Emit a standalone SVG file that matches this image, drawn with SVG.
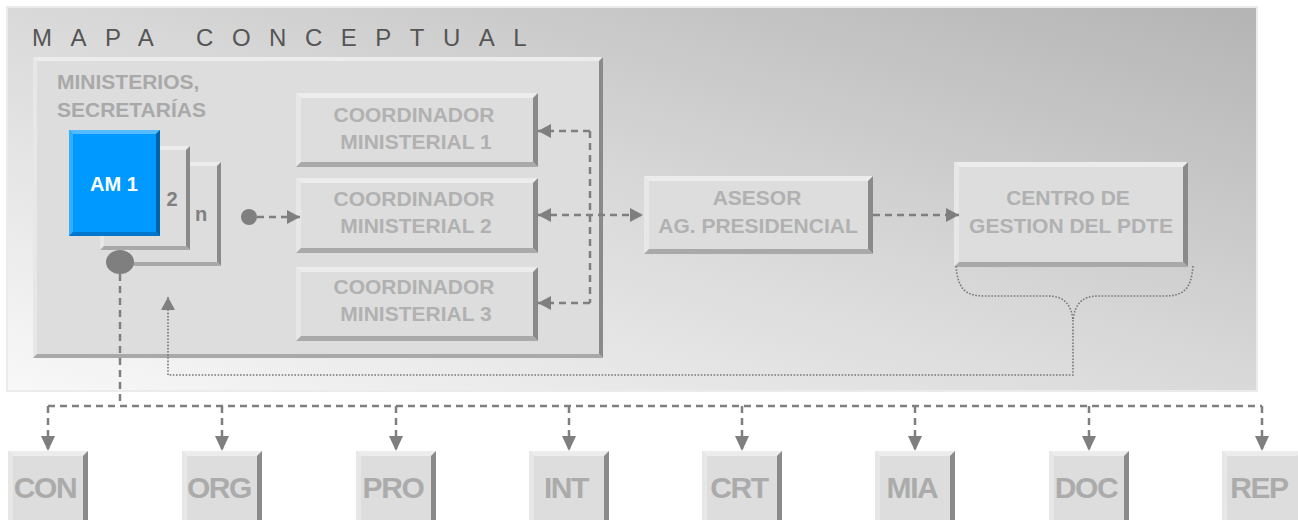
<svg xmlns="http://www.w3.org/2000/svg" width="1298" height="520" viewBox="0 0 1298 520">
<defs>
<linearGradient id="bg" x1="0" y1="1" x2="1" y2="0">
<stop offset="0" stop-color="#f8f8f8"/>
<stop offset="0.5" stop-color="#d9d9d9"/>
<stop offset="1" stop-color="#b4b4b4"/>
</linearGradient>
<marker id="ah" markerUnits="userSpaceOnUse" markerWidth="13" markerHeight="14" refX="13" refY="7" orient="auto-start-reverse" viewBox="0 0 13 14">
<path d="M0,0 L13,7 L0,14 Z" fill="#7f7f7f" stroke="none"/>
</marker>
<marker id="ahd" markerUnits="userSpaceOnUse" markerWidth="15" markerHeight="14" refX="15" refY="7" orient="auto" viewBox="0 0 15 14">
<path d="M0,0 L15,7 L0,14 Z" fill="#7f7f7f" stroke="none"/>
</marker>
</defs>
<style>
.face{fill:#dddddd}
.tp{fill:#ececec}
.lf{fill:#e7e7e7}
.rt{fill:#8a8a8a}
.bt{fill:#a9a9a9}
.lbl{font-family:"Liberation Sans",Arial,sans-serif;font-weight:bold;font-size:21px;fill:#b1b1b1;text-anchor:middle}
.big{font-family:"Liberation Sans",Arial,sans-serif;font-weight:bold;font-size:30px;letter-spacing:-1.4px;fill:#ababab;text-anchor:middle}
.dash{fill:none;stroke:#7f7f7f;stroke-width:2.5;stroke-dasharray:7 5}
.dot{fill:none;stroke:#777777;stroke-width:1.6;stroke-dasharray:1.6 1.6}
</style>

<g id="panel">
<rect x="7" y="7" width="1250" height="384" fill="url(#bg)" stroke="#ebebeb" stroke-width="2"/>
<text x="32" y="46" font-family="'Liberation Sans',Arial,sans-serif" font-size="24" letter-spacing="18.5" fill="#555555">MAPA CONCEPTUAL</text>
</g>

<g id="ministerios">
<rect class="face" x="33" y="57" width="570" height="301"/>
<polygon class="tp" points="33,57 603,57 599,61 37,61"/>
<polygon class="lf" points="33,57 37,61 37,354 33,358"/>
<polygon class="rt" points="603,57 603,358 599,354 599,61"/>
<polygon class="bt" points="33,358 37,354 599,354 603,358"/>
<text x="57" y="89" font-family="'Liberation Sans',Arial,sans-serif" font-weight="bold" font-size="21" fill="#a9a9a9">MINISTERIOS,</text>
<text x="57" y="117" font-family="'Liberation Sans',Arial,sans-serif" font-weight="bold" font-size="21" fill="#a9a9a9">SECRETARÍAS</text>
</g>

<g id="am-n">
<rect class="face" x="125" y="162" width="96" height="104"/>
<polygon class="tp" points="125,162 221,162 217,166 129,166"/>
<polygon class="lf" points="125,162 129,166 129,262 125,266"/>
<polygon class="rt" points="221,162 221,266 217,262 217,166"/>
<polygon class="bt" points="125,266 129,262 217,262 221,266"/>
<text x="201" y="221" font-family="'Liberation Sans',Arial,sans-serif" font-weight="bold" font-size="20" fill="#808080" text-anchor="middle">n</text>
</g>

<g id="am-2">
<rect class="face" x="100" y="146" width="90" height="104"/>
<polygon class="tp" points="100,146 190,146 186,150 104,150"/>
<polygon class="lf" points="100,146 104,150 104,246 100,250"/>
<polygon class="rt" points="190,146 190,250 186,246 186,150"/>
<polygon class="bt" points="100,250 104,246 186,246 190,250"/>
<text x="172" y="206" font-family="'Liberation Sans',Arial,sans-serif" font-weight="bold" font-size="20" fill="#808080" text-anchor="middle">2</text>
</g>

<g id="am-1">
<rect x="69" y="130" width="91" height="106" fill="#0099ff"/>
<polygon points="69,130 160,130 156,134 73,134" fill="#55bbff"/>
<polygon points="69,130 73,134 73,232 69,236" fill="#36aeff"/>
<polygon points="160,130 160,236 156,232 156,134" fill="#0062a8"/>
<polygon points="69,236 73,232 156,232 160,236" fill="#0077cc"/>
<text x="114" y="191" font-family="'Liberation Sans',Arial,sans-serif" font-weight="bold" font-size="20" fill="#ffffff" text-anchor="middle">AM 1</text>
</g>

<g id="cm1">
<rect class="face" x="296" y="93" width="242" height="74"/>
<polygon class="tp" points="296,93 538,93 533,98 301,98"/>
<polygon class="lf" points="296,93 301,98 301,162 296,167"/>
<polygon class="rt" points="538,93 538,167 533,162 533,98"/>
<polygon class="bt" points="296,167 301,162 533,162 538,167"/>
<text class="lbl" x="414" y="122">COORDINADOR</text>
<text class="lbl" x="416" y="149">MINISTERIAL 1</text>
</g>

<g id="cm2">
<rect class="face" x="296" y="178" width="242" height="75"/>
<polygon class="tp" points="296,178 538,178 533,183 301,183"/>
<polygon class="lf" points="296,178 301,183 301,248 296,253"/>
<polygon class="rt" points="538,178 538,253 533,248 533,183"/>
<polygon class="bt" points="296,253 301,248 533,248 538,253"/>
<text class="lbl" x="414" y="206">COORDINADOR</text>
<text class="lbl" x="416" y="233">MINISTERIAL 2</text>
</g>

<g id="cm3">
<rect class="face" x="296" y="267" width="242" height="74"/>
<polygon class="tp" points="296,267 538,267 533,272 301,272"/>
<polygon class="lf" points="296,267 301,272 301,336 296,341"/>
<polygon class="rt" points="538,267 538,341 533,336 533,272"/>
<polygon class="bt" points="296,341 301,336 533,336 538,341"/>
<text class="lbl" x="414" y="294">COORDINADOR</text>
<text class="lbl" x="416" y="321">MINISTERIAL 3</text>
</g>

<g id="asesor">
<rect class="face" x="644" y="176" width="229" height="78"/>
<polygon class="tp" points="644,176 873,176 868,181 649,181"/>
<polygon class="lf" points="644,176 649,181 649,249 644,254"/>
<polygon class="rt" points="873,176 873,254 868,249 868,181"/>
<polygon class="bt" points="644,254 649,249 868,249 873,254"/>
<text class="lbl" x="757" y="205">ASESOR</text>
<text class="lbl" x="758" y="233">AG. PRESIDENCIAL</text>
</g>

<g id="centro">
<rect class="face" x="954" y="162" width="234" height="105"/>
<polygon class="tp" points="954,162 1188,162 1183,167 959,167"/>
<polygon class="lf" points="954,162 959,167 959,262 954,267"/>
<polygon class="rt" points="1188,162 1188,267 1183,262 1183,167"/>
<polygon class="bt" points="954,267 959,262 1183,262 1188,267"/>
<text class="lbl" x="1068" y="205">CENTRO DE</text>
<text class="lbl" x="1071" y="233">GESTION DEL PDTE</text>
</g>

<g id="con">
<rect class="face" x="8" y="451" width="80" height="80"/>
<polygon class="tp" points="8,451 88,451 83,456 13,456"/>
<polygon class="lf" points="8,451 13,456 13,526 8,531"/>
<polygon class="rt" points="88,451 88,531 83,526 83,456"/>
<text class="big" x="45" y="498">CON</text>
</g>
<g id="org">
<rect class="face" x="182" y="451" width="80" height="80"/>
<polygon class="tp" points="182,451 262,451 257,456 187,456"/>
<polygon class="lf" points="182,451 187,456 187,526 182,531"/>
<polygon class="rt" points="262,451 262,531 257,526 257,456"/>
<text class="big" x="219" y="498">ORG</text>
</g>
<g id="pro">
<rect class="face" x="356" y="451" width="80" height="80"/>
<polygon class="tp" points="356,451 436,451 431,456 361,456"/>
<polygon class="lf" points="356,451 361,456 361,526 356,531"/>
<polygon class="rt" points="436,451 436,531 431,526 431,456"/>
<text class="big" x="393" y="498">PRO</text>
</g>
<g id="int">
<rect class="face" x="529" y="451" width="80" height="80"/>
<polygon class="tp" points="529,451 609,451 604,456 534,456"/>
<polygon class="lf" points="529,451 534,456 534,526 529,531"/>
<polygon class="rt" points="609,451 609,531 604,526 604,456"/>
<text class="big" x="566" y="498">INT</text>
</g>
<g id="crt">
<rect class="face" x="702" y="451" width="80" height="80"/>
<polygon class="tp" points="702,451 782,451 777,456 707,456"/>
<polygon class="lf" points="702,451 707,456 707,526 702,531"/>
<polygon class="rt" points="782,451 782,531 777,526 777,456"/>
<text class="big" x="739" y="498">CRT</text>
</g>
<g id="mia">
<rect class="face" x="875" y="451" width="80" height="80"/>
<polygon class="tp" points="875,451 955,451 950,456 880,456"/>
<polygon class="lf" points="875,451 880,456 880,526 875,531"/>
<polygon class="rt" points="955,451 955,531 950,526 950,456"/>
<text class="big" x="912" y="498">MIA</text>
</g>
<g id="doc">
<rect class="face" x="1049" y="451" width="80" height="80"/>
<polygon class="tp" points="1049,451 1129,451 1124,456 1054,456"/>
<polygon class="lf" points="1049,451 1054,456 1054,526 1049,531"/>
<polygon class="rt" points="1129,451 1129,531 1124,526 1124,456"/>
<text class="big" x="1086" y="498">DOC</text>
</g>
<g id="rep">
<rect class="face" x="1222" y="451" width="80" height="80"/>
<polygon class="tp" points="1222,451 1302,451 1297,456 1227,456"/>
<polygon class="lf" points="1222,451 1227,456 1227,526 1222,531"/>
<text class="big" x="1259" y="498">REP</text>
</g>

<g id="connectors">
<circle cx="249" cy="217" r="8" fill="#7f7f7f"/>
<path class="dash" d="M257,217 H300" marker-end="url(#ah)"/>
<path class="dash" d="M590,131 V303"/>
<path class="dash" d="M590,131 H538" marker-end="url(#ah)"/>
<path class="dash" d="M590,303 H538" marker-end="url(#ah)"/>
<path class="dash" d="M538,215 H643" marker-start="url(#ah)" marker-end="url(#ah)"/>
<path class="dash" d="M873,215 H959" marker-end="url(#ah)"/>
<path class="dot" d="M956,266 C958,288 964,296 985,296 H1048 C1064,296 1071,304 1073,320"/>
<path class="dot" d="M1193,266 C1191,288 1185,296 1164,296 H1098 C1082,296 1075,304 1073,320"/>
<path class="dot" d="M1073,320 V375 H168 V297" marker-end="url(#ah)"/>
<ellipse cx="120" cy="262" rx="14" ry="12" fill="#7f7f7f"/>
<path class="dash" d="M120,274 V406"/>
<path class="dash" d="M48,406 H1262"/>
<path class="dash" d="M48,406 V451" marker-end="url(#ahd)"/>
<path class="dash" d="M222,406 V451" marker-end="url(#ahd)"/>
<path class="dash" d="M396,406 V451" marker-end="url(#ahd)"/>
<path class="dash" d="M569,406 V451" marker-end="url(#ahd)"/>
<path class="dash" d="M742,406 V451" marker-end="url(#ahd)"/>
<path class="dash" d="M915,406 V451" marker-end="url(#ahd)"/>
<path class="dash" d="M1089,406 V451" marker-end="url(#ahd)"/>
<path class="dash" d="M1262,406 V451" marker-end="url(#ahd)"/>
</g>
</svg>
